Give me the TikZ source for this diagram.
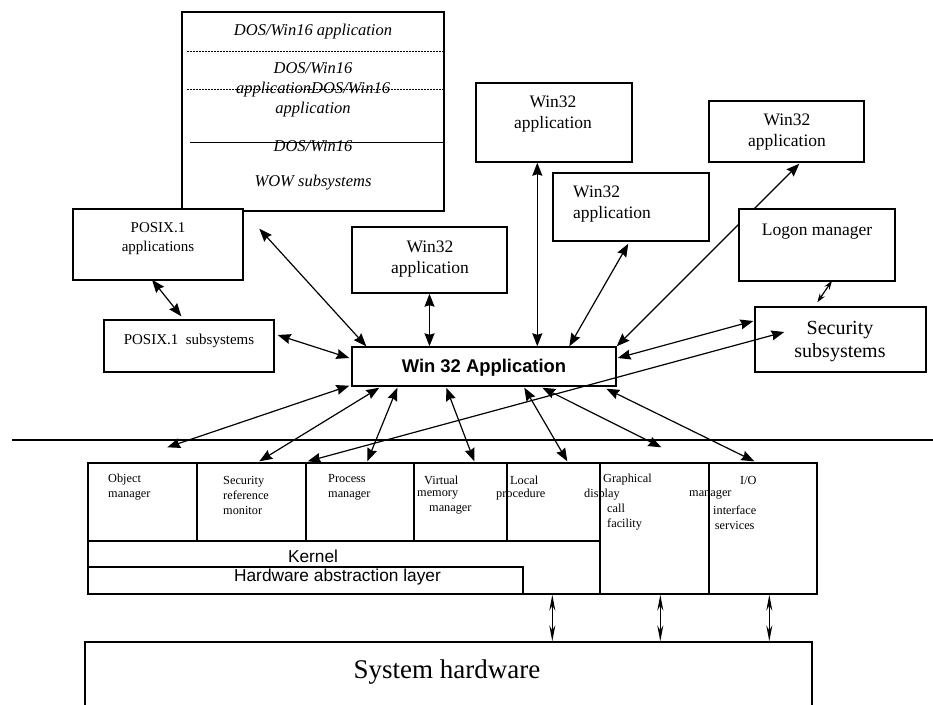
\documentclass[tikz,border=0pt]{standalone}
\usepackage{fontspec}
\setmainfont{Liberation Serif}
\newfontfamily\arialfont{Liberation Sans}
\usepackage{tikz}
\usetikzlibrary{arrows.meta,calc}

\newcommand\boxfont{\fontsize{17.5}{21}\selectfont}
\newcommand\posixfont{\fontsize{15}{19}\selectfont}
\newcommand\secfont{\fontsize{20}{23}\selectfont}
\newcommand\dosfont{\fontsize{16.5}{20}\selectfont\itshape}
\newcommand\cellfont{\fontsize{12.3}{15}\selectfont}
\newcommand\layerfont{\arialfont\fontsize{17.3}{20}\selectfont}
\newcommand\appfont{\arialfont\bfseries\fontsize{18.4}{22}\selectfont}

\tikzset{
  box/.style={draw, line width=1.4pt, fill=white, inner sep=0pt},
  lbl/.style={inner sep=0pt, align=center},
  link/.style={{Stealth[length=13pt,width=10pt,inset=1.5pt]}-{Stealth[length=13pt,width=10pt,inset=1.5pt]}, line width=1.2pt},
  smalllink/.style={{Stealth[length=9pt,width=6pt]}-{Stealth[length=9pt,width=6pt]}, line width=1.2pt},
  hwlink/.style={{Stealth[length=16pt,width=6pt]}-{Stealth[length=16pt,width=6pt]}, line width=1.2pt},
}

\begin{document}
\begin{tikzpicture}[x=1pt,y=-1pt]
\useasboundingbox (0,0) rectangle (933,704);

% user mode boxes
\begin{scope}[every node/.style={box}]
    \node[minimum width=262pt, minimum height=199pt] (dos) at (313,111.5) {};
    \node[minimum width=170pt, minimum height=52pt] (posixsub) at (189,346) {};
    \node[minimum width=155pt, minimum height=66pt] (w32a) at (429.5,260) {};
    \node[minimum width=156pt, minimum height=79pt] (w32b) at (554,122.5) {};
    \node[minimum width=156pt, minimum height=68pt] (w32c) at (631,207) {};
    \node[minimum width=155pt, minimum height=61pt] (w32d) at (786.5,131.5) {};
    \node[minimum width=171pt, minimum height=65pt] (secsub) at (840.5,339.5) {};
    \node[minimum width=264pt, minimum height=39pt] (app) at (484,366.5) {};
\end{scope}

% lines inside the DOS box
\draw[line width=1pt, dash pattern=on 1.2pt off 1.8pt] ($(dos.north west)+(6,40)$) -- ($(dos.north east)+(0,40)$);
\draw[line width=1pt, dash pattern=on 1.2pt off 1.8pt] ($(dos.north west)+(6,78)$) -- ($(dos.north east)+(0,78)$);
\draw[line width=1.4pt] ($(dos.north west)+(9,131)$) -- ($(dos.north east)+(0,131)$);
\node[box, minimum width=170pt, minimum height=71pt] (posixapp) at (158,244.5) {};

% this one runs behind the logon box
\path ($(w32d.south west)+(91,1)$) edge[link, draw] (app.north east);
\node[box, minimum width=156pt, minimum height=72pt] (logon) at (817,245) {};

% kernel mode boxes
\begin{scope}[every node/.style={box}]
    \node[minimum width=729pt, minimum height=131pt] (exec) at (452.5,528.5) {};
    \node[minimum width=109pt, minimum height=78pt] (objmgr) at (142.5,502) {};
    \node[minimum width=109pt, minimum height=78pt] (secref) at (251.5,502) {};
    \node[minimum width=108pt, minimum height=78pt] (procmgr) at (360,502) {};
    \node[minimum width=93pt, minimum height=78pt] (vmm) at (460.5,502) {};
    \node[minimum width=93pt, minimum height=78pt] (lpc) at (553.5,502) {};
    \node[minimum width=109pt, minimum height=131pt] (gdi) at (654.5,528.5) {};
    \node[minimum width=108pt, minimum height=131pt] (io) at (763,528.5) {};
    \node[minimum width=435pt, minimum height=27pt] (hal) at (305.5,580.5) {};
    \node[minimum width=727pt, minimum height=66pt] (hw) at (448.5,675) {};
\end{scope}

% user / kernel boundary
\coordinate (sepl) at (12,440);
\coordinate (sepr) at (940,440);
\draw[line width=1.2pt] (sepl) -- (sepr);

% texts
\begin{scope}[every node/.style={lbl}]
    \node[font=\dosfont] (dos-t1) at (313,32) {DOS/Win16 application};
    \node[font=\dosfont] (dos-t2) at (313,90) {DOS/Win16\\applicationDOS/Win16\\application};
    \node[font=\dosfont] (dos-t3) at (313,146) {DOS/Win16};
    \node[font=\dosfont] (wow-t) at (313,183) {WOW subsystems};
    \node[font=\posixfont] (posixapp-t) at (158,238.5) {POSIX.1\\applications};
    \node[font=\posixfont] (posixsub-t) at (189,341) {POSIX.1\ \ subsystems};
    \node[font=\boxfont] (w32a-t) at (430,259) {Win32\\application};
    \node[font=\boxfont] (w32b-t) at (553,114) {Win32\\application};
    \node[font=\boxfont, anchor=west, align=left] (w32c-t) at (573,204) {Win32\\application};
    \node[font=\boxfont] (w32d-t) at (787,132) {Win32\\application};
    \node[font=\boxfont] (logon-t) at (817,232) {Logon manager};
    \node[font=\secfont] (secsub-t) at (840,342) {Security\\subsystems};
    \node[font=\appfont] (app-t) at (484,368) {Win 32 Application};
    \node[font=\layerfont] (kernel-t) at (313,556) {Kernel};
    \node[font=\layerfont] (hal-t) at (337.5,577) {Hardware abstraction layer};
    \node[font=\fontsize{27}{32}\selectfont] (hw-t) at (447,672) {System hardware};
\end{scope}

\begin{scope}[every node/.style={lbl, anchor=west, align=left, font=\cellfont}]
    \node (obj-t) at (108,487.5) {Object\\manager};
    \node (secref-t) at (223,495) {Security\\reference\\monitor};
    \node (proc-t) at (328,487.5) {Process\\manager};
    \node (vmm-t1) at (424,480) {Virtual};
    \node (vmm-t2) at (417,495) {memory};
    \node (vmm-t3) at (429,510) {manager};
    \node (lpc-t1) at (510,480) {Local};
    \node (lpc-t2) at (496,495) {procedure};
    \node (gdi-t1) at (603,480) {Graphical};
    \node (gdi-t2) at (584,495) {display};
    \node (gdi-t3) at (607,517.5) {call\\facility};
    \node (io-t1) at (740,480) {I/O};
    \node (io-t2) at (689,495) {manager};
    \node[align=center] (io-t3) at (713,517.5) {interface\\services};
\end{scope}

% connectors
\begin{scope}[every edge/.style={draw=black, line width=1.2pt}]
    \path ($(dos.south west)+(78,17)$) edge[link] ($(app.north west)+(15,0)$);
    \path ($(posixapp.south)+(-6,-1)$) edge[link] ($(posixsub.north west)+(78,-3)$);
    \path ($(posixsub.east)+(3,-11)$) edge[link] ($(app.west)+(-2,-8.5)$);
    \path (w32a.south) edge[link] (w32a.south |- app.north);
    \path ($(w32b.south west)+(62,0)$) edge[link] ($(app.north west)+(186,0)$);
    \path ($(w32c.south west)+(76,2)$) edge[link] ($(app.north west)+(218,0)$);
    \path ($(secsub.west)+(-1,-18.5)$) edge[link] ($(app.east)+(1,-8.5)$);
    \path ($(secsub.west)+(30,-7.5)$) edge[link] ($(secref.north east)+(1,-1)$);
    \path ($(logon.south)+(15,-1)$) edge[smalllink] ($(secsub.north west)+(63,-4)$);

    \path ($(app.south west)+(-2,-1)$) edge[link] ($(objmgr.north west)+(80,-15)$);
    \path ($(app.south west)+(28,1)$) edge[link] ($(secref.north west)+(63,-1)$);
    \path ($(app.south west)+(46,1)$) edge[link] ($(procmgr.north west)+(62,-1)$);
    \path ($(app.south west)+(95,1)$) edge[link] ($(vmm.north west)+(61,-1)$);
    \path ($(app.south west)+(173,1)$) edge[link] ($(lpc.north west)+(61,-1)$);
    \path ($(app.south west)+(191,1)$) edge[link] ($(gdi.north west)+(62,-15)$);
    \path ($(app.south west)+(255,2)$) edge[link] ($(io.north west)+(46,-1)$);

    \path ($(exec.south west)+(465,0)$) edge[hwlink] ($(hw.north west)+(468,0)$);
    \path ($(exec.south west)+(573,0)$) edge[hwlink] ($(hw.north west)+(576,0)$);
    \path ($(exec.south west)+(682,0)$) edge[hwlink] ($(hw.north west)+(685,0)$);
\end{scope}
\end{tikzpicture}
\end{document}
